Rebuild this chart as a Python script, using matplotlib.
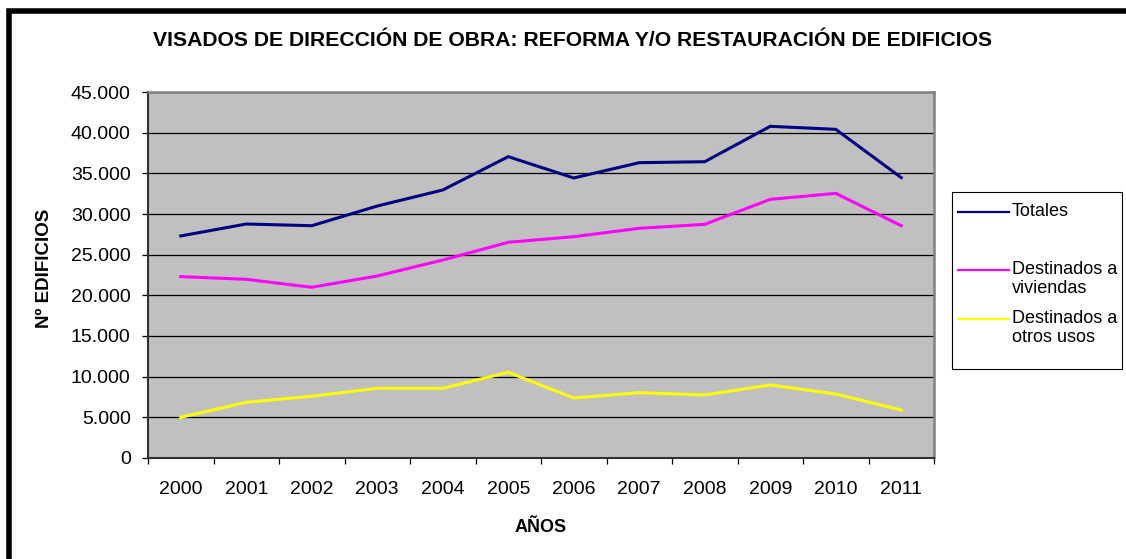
import matplotlib
matplotlib.use('Agg')
import matplotlib.pyplot as plt
from matplotlib.lines import Line2D
from matplotlib.patches import Rectangle
from matplotlib.ticker import FuncFormatter

plt.rcParams['font.family'] = ['Liberation Sans', 'DejaVu Sans']

# data
years = ['2000', '2001', '2002', '2003', '2004', '2005',
         '2006', '2007', '2008', '2009', '2010', '2011']
totales = [27300, 28770, 28560, 30980, 32950, 37050,
           34430, 36310, 36430, 40780, 40410, 34470]
viviendas = [22300, 21970, 20990, 22380, 24340, 26520,
             27210, 28240, 28730, 31800, 32540, 28560]
otros_usos = [5000, 6850, 7590, 8570, 8570, 10540,
              7380, 8030, 7750, 8980, 7870, 5900]

series_labels = ['Totales', 'Destinados a\nviviendas', 'Destinados a\notros usos']
series_colors = ['#000080', '#FF00FF', '#FFFF00']

W, H = 1126, 559
fig = plt.figure(figsize=(W / 100, H / 100), dpi=100)
ax = fig.add_axes([148 / W, 1 - 458 / H, (934 - 148) / W, (458 - 92) / H])
ax.set_facecolor('#C0C0C0')

x = list(range(len(years)))
for vals, color in zip([totales, viviendas, otros_usos], series_colors):
    ax.plot(x, vals, color=color, linewidth=2.2, solid_joinstyle='miter', zorder=3)

ax.set_xlim(-0.5, len(years) - 0.5)
ax.set_ylim(0, 45000)
ax.set_yticks(range(0, 45001, 5000))
ax.yaxis.set_major_formatter(FuncFormatter(lambda v, _: f'{int(v):,}'.replace(',', '.')))
ax.grid(axis='y', color='black', linewidth=0.9, zorder=1)
ax.set_axisbelow(True)

# category ticks at boundaries, labels at centres
ax.set_xticks([i - 0.5 for i in range(len(years) + 1)])
ax.set_xticklabels([])
ax.set_xticks(x, minor=True)
ax.set_xticklabels(years, minor=True)
ax.tick_params(axis='x', which='major', direction='out', length=4.5, width=0.9, color='black')
ax.tick_params(axis='x', which='minor', length=0, pad=16.5, labelsize=14)
ax.tick_params(axis='y', direction='out', length=4.5, width=0.9, pad=8, labelsize=14)

for side in ['left', 'bottom']:
    ax.spines[side].set_color('#303030')
    ax.spines[side].set_linewidth(1.5)
for side in ['top', 'right']:
    ax.spines[side].set_color('#808080')
    ax.spines[side].set_linewidth(1.8)

ax.set_xlabel('AÑOS', fontsize=13, fontweight='bold', labelpad=15)
fig.text(44.5 / W, 1 - 268 / H, 'Nº EDIFICIOS', rotation=90,
         ha='center', va='center', fontsize=13.5, fontweight='bold')
fig.text(573 / W, 1 - 41 / H,
         'VISADOS DE DIRECCIÓN DE OBRA: REFORMA Y/O RESTAURACIÓN DE EDIFICIOS',
         ha='center', va='center', fontsize=15.2, fontweight='bold')

# legend box drawn by hand (handles line up with first text line)
fig.patches.append(Rectangle((952 / W, 1 - 369 / H), (1122 - 952) / W, (369 - 192) / H,
                             transform=fig.transFigure, facecolor='white',
                             edgecolor='black', linewidth=0.8))
legend_y = [212, 270, 319]
for label, color, ly in zip(series_labels, series_colors, legend_y):
    fig.lines.append(Line2D([958 / W, 1009 / W], [1 - ly / H, 1 - ly / H],
                            transform=fig.transFigure, color=color, linewidth=1.6))
    fig.text(1012 / W, 1 - (ly - 9) / H, label, ha='left', va='top',
             fontsize=13, linespacing=1.15)

# thick frame on the left and top edges of the chart area
fig.lines.append(Line2D([8.5 / W, 8.5 / W, 1], [0, 1 - 10.5 / H, 1 - 10.5 / H],
                        transform=fig.transFigure, color='black', linewidth=4,
                        solid_joinstyle='miter'))

fig.savefig('out.png', dpi=100)
